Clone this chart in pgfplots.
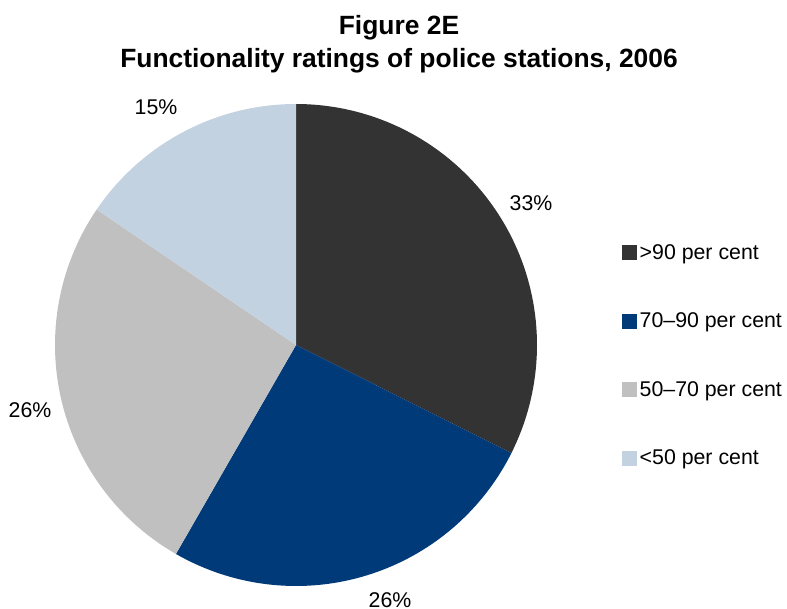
\documentclass[border=0pt]{standalone}
\usepackage{pgfplots}
\pgfplotsset{compat=1.18}
\usepackage{pgfplotstable}
\usepackage{fontspec}
\setmainfont{Liberation Sans}
\definecolor{cA}{HTML}{333333}
\definecolor{cB}{HTML}{003A78}
\definecolor{cC}{HTML}{C0C0C0}
\definecolor{cD}{HTML}{C3D2E1}
\pgfplotstableread{
value
32.4
25.9
26.2
15.5
}\piedata
\begin{document}
\begin{tikzpicture}
\pgfplotstablegetelem{0}{value}\of\piedata \let\va\pgfplotsretval
\pgfplotstablegetelem{1}{value}\of\piedata \let\vb\pgfplotsretval
\pgfplotstablegetelem{2}{value}\of\piedata \let\vc\pgfplotsretval
\pgfplotstablegetelem{3}{value}\of\piedata \let\vd\pgfplotsretval
\pgfmathsetmacro\tot{\va+\vb+\vc+\vd}
\pgfmathsetmacro\aA{90}
\pgfmathsetmacro\aB{\aA-360*\va/\tot}
\pgfmathsetmacro\aC{\aB-360*\vb/\tot}
\pgfmathsetmacro\aD{\aC-360*\vc/\tot}
\pgfmathsetmacro\aE{\aD-360*\vd/\tot}
\def\cx{296}\def\cy{264}\def\r{241}
\begin{axis}[
  name=ax,
  scale only axis, width=787bp, height=609bp,
  xmin=0, xmax=787, ymin=0, ymax=609,
  axis lines=none, clip=false,
  legend cell align=left,
  legend style={draw=none, fill=none, at={(axis cs:622,367)}, anchor=north west,
    font=\fontsize{21.4}{25}\selectfont, row sep=47bp, inner sep=0pt,
    nodes={inner sep=2.5bp}},
  legend image code/.code={\fill[#1] (0bp,-7.5bp) rectangle (15bp,7.5bp);},
]
\addplot[fill=cA, draw=none, domain=\aB:\aA, samples=80] ({\cx+\r*cos(x)},{\cy+\r*sin(x)}) -- (axis cs:\cx,\cy) -- cycle;
\addlegendentry{>90 per cent}
\addplot[fill=cB, draw=none, domain=\aC:\aB, samples=80] ({\cx+\r*cos(x)},{\cy+\r*sin(x)}) -- (axis cs:\cx,\cy) -- cycle;
\addlegendentry{70–90 per cent}
\addplot[fill=cC, draw=none, domain=\aD:\aC, samples=80] ({\cx+\r*cos(x)},{\cy+\r*sin(x)}) -- (axis cs:\cx,\cy) -- cycle;
\addlegendentry{50–70 per cent}
\addplot[fill=cD, draw=none, domain=\aE:\aD, samples=80] ({\cx+\r*cos(x)},{\cy+\r*sin(x)}) -- (axis cs:\cx,\cy) -- cycle;
\addlegendentry{<50 per cent}
\node[font=\fontsize{21.4}{25}\selectfont] at (axis cs:531,406) {33\%};
\node[font=\fontsize{21.4}{25}\selectfont, anchor=base, inner sep=0pt] at (axis cs:390,2) {26\%};
\node[font=\fontsize{21.4}{25}\selectfont] at (axis cs:30,199) {26\%};
\node[font=\fontsize{21.4}{25}\selectfont] at (axis cs:156,502) {15\%};
\node[font=\fontsize{26.5}{30}\selectfont\bfseries, anchor=base, inner sep=0pt] at (axis cs:399,574) {Figure 2E};
\node[font=\fontsize{26.5}{30}\selectfont\bfseries, anchor=base, inner sep=0pt] at (axis cs:399,541) {Functionality ratings of police stations, 2006};
\end{axis}
\pgfresetboundingbox
\path (ax.south west) rectangle (ax.north east);
\end{tikzpicture}
\end{document}
